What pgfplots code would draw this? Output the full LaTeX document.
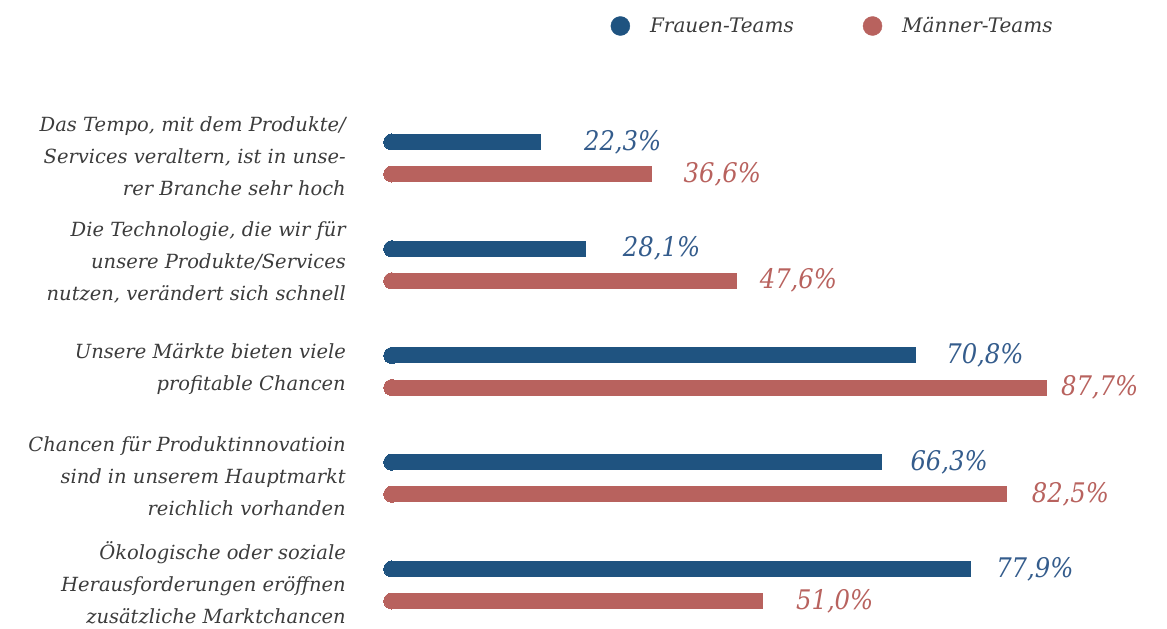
\documentclass[border=0pt]{standalone}
\usepackage{pgfplots}
\pgfplotsset{compat=1.18}
\usepackage{fontspec}
\setmainfont{DejaVu Serif Italic}
\newfontfamily\valfont{DejaVu Serif Condensed Italic}

\definecolor{fbar}{RGB}{31,83,128}
\definecolor{mbar}{RGB}{184,98,94}
\definecolor{flab}{RGB}{52,92,140}
\definecolor{mlab}{RGB}{184,98,94}
\definecolor{txt}{RGB}{60,60,60}

% one bar: y position, value, label text, gap to label (px)
\newcommand\fbarplot[4]{\addplot[fbarstyle] coordinates {(3.0,#1) (#2,#1)}
  node[pos=1,anchor=west,inner sep=0pt,xshift=#4pt,text=flab,font=\valfont\fontsize{27}{27}\selectfont] {#3};}
\newcommand\mbarplot[4]{\addplot[mbarstyle] coordinates {(3.0,#1) (#2,#1)}
  node[pos=1,anchor=west,inner sep=0pt,xshift=#4pt,text=mlab,font=\valfont\fontsize{27}{27}\selectfont] {#3};}

\begin{document}
\begin{tikzpicture}
\begin{axis}[
  width=1167pt, height=628pt, scale only axis,
  xmin=-47.63, xmax=103.2,
  ymin=-1.48, ymax=4.403, y dir=reverse,
  axis lines=none, clip=false,
  fbarstyle/.style={forget plot, line width=16pt, draw=fbar, mark=*, mark indices={1},
    mark size=8pt, mark options={fill=fbar, draw=none, line width=0pt}},
  mbarstyle/.style={forget plot, line width=16pt, draw=mbar, mark=*, mark indices={1},
    mark size=8pt, mark options={fill=mbar, draw=none, line width=0pt}},
  legend style={at={(rel axis cs:0.5231,0.9586)}, anchor=west, draw=none, fill=none,
    legend columns=2, inner sep=0pt, text=txt,
    font=\fontsize{20}{20}\selectfont,
    nodes={inner sep=0pt},
    /tikz/every odd column/.append style={column sep=20pt},
    /tikz/every even column/.append style={column sep=69pt}},
  legend cell align=left,
]
\path (rel axis cs:0,0) rectangle (rel axis cs:1,1);
\fbarplot{-0.15}{22.3}{22,3\%}{35}
\mbarplot{0.15}{36.6}{36,6\%}{24}
\fbarplot{0.85}{28.1}{28,1\%}{29}
\mbarplot{1.15}{47.6}{47,6\%}{15}
\fbarplot{1.85}{70.8}{70,8\%}{22}
\mbarplot{2.15}{87.7}{87,7\%}{6}
\fbarplot{2.85}{66.3}{66,3\%}{21}
\mbarplot{3.15}{82.5}{82,5\%}{17}
\fbarplot{3.85}{77.9}{77,9\%}{17}
\mbarplot{4.15}{51.0}{51,0\%}{25}

\addlegendimage{legend image code/.code={\fill[fbar] (9.5pt,0pt) circle (9.5pt);}}
\addlegendentry{Frauen-Teams}
\addlegendimage{legend image code/.code={\fill[mbar] (9.5pt,0pt) circle (9.5pt);}}
\addlegendentry{Männer-Teams}

\begin{scope}[every node/.style={anchor=east, align=right, text=txt, inner sep=0pt,
    yshift=2pt, font=\fontsize{19.5}{32}\selectfont}]
\node at (axis cs:-2.91,0) {Das Tempo, mit dem Produkte/\\Services veraltern, ist in unse-\\rer Branche sehr hoch};
\node at (axis cs:-2.91,1) {Die Technologie, die wir für\\unsere Produkte/Services\\nutzen, verändert sich schnell};
\node at (axis cs:-2.91,2) {Unsere Märkte bieten viele\\profitable Chancen};
\node at (axis cs:-2.91,3) {Chancen für Produktinnovatioin\\sind in unserem Hauptmarkt\\reichlich vorhanden};
\node at (axis cs:-2.91,4) {Ökologische oder soziale\\Herausforderungen eröffnen\\zusätzliche Marktchancen};
\end{scope}
\end{axis}
\end{tikzpicture}
\end{document}
